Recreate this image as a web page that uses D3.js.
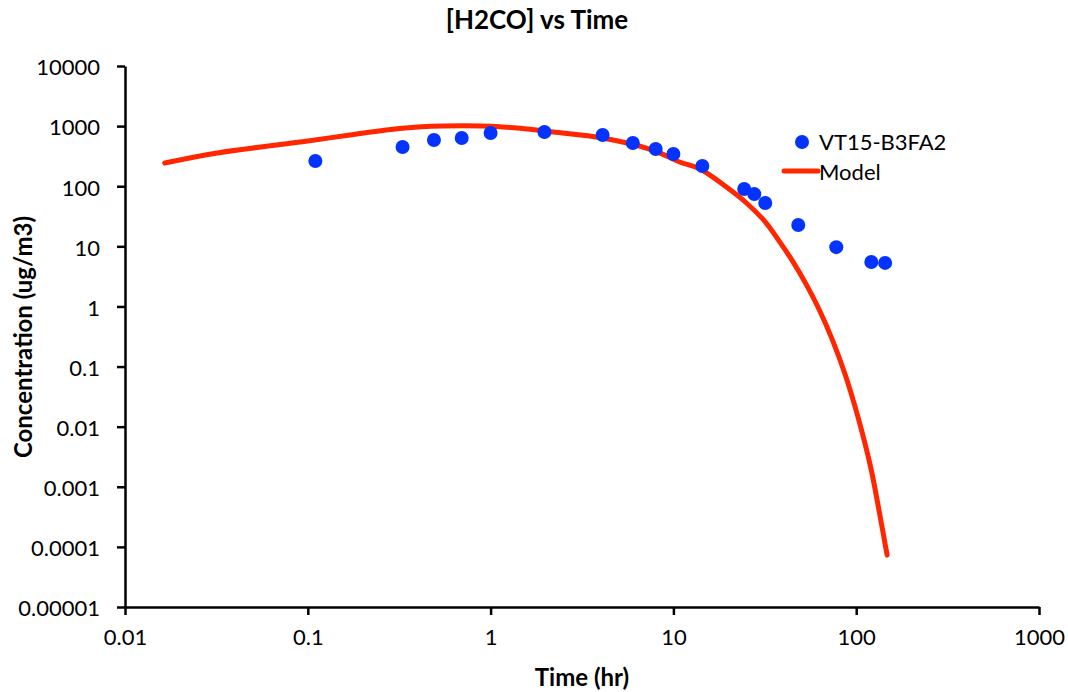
<!DOCTYPE html>
<html>
<head>
<meta charset="utf-8">
<script src="https://cdn.jsdelivr.net/npm/d3@7"></script>
<style>
  html, body { margin: 0; padding: 0; background: #fff; }
  svg { display: block; font-family: Lato, "Open Sans", sans-serif; }
</style>
</head>
<body>
<svg id="chart" width="1068" height="692"></svg>
<script>
// Measured data (VT15-B3FA2)
const dataTime = [0.11, 0.33, 0.49, 0.695, 1.0, 1.97, 4.1, 6.0, 8.0, 10.0, 14.4, 24.4, 27.7, 31.8, 48.2, 77.8, 121, 144];
const dataConc = [263, 449, 587, 634, 768, 797, 711, 523, 416, 343, 217, 90, 74, 52.6, 22.6, 9.7, 5.5, 5.3];

// Model curve
const modelTime = [0.0165, 0.032, 0.1, 0.17, 0.33, 0.55, 0.9, 1.45, 2.2, 4.1, 7.7, 10.8, 13.9, 19.5, 25.1, 32.2, 37.9, 44.7, 53.3, 62.8, 74.0, 87.1, 102.5, 120.8, 133.6, 147.6];
const modelConc = [243, 357, 565, 711, 920, 1000, 1000, 920, 798, 634, 400, 253, 195, 97, 52.6, 24.4, 12.2, 5.8, 2.33, 0.88, 0.28, 0.073, 0.0141, 0.00193, 0.00039, 0.000073];

const xTicks = [0.01, 0.1, 1, 10, 100, 1000];
const xTickLabels = ["0.01", "0.1", "1", "10", "100", "1000"];
const yTicks = [10000, 1000, 100, 10, 1, 0.1, 0.01, 0.001, 0.0001, 0.00001];
const yTickLabels = ["10000", "1000", "100", "10", "1", "0.1", "0.01", "0.001", "0.0001", "0.00001"];

const title = "[H2CO] vs Time";
const xTitle = "Time (hr)";
const yTitle = "Concentration (ug/m3)";
const seriesNames = ["VT15-B3FA2", "Model"];

const svg = d3.select("#chart");
const plotLeft = 125, plotRight = 1039, plotTop = 66, plotBottom = 607;

const x = d3.scaleLog().domain([0.01, 1000]).range([plotLeft, plotRight]);
const y = d3.scaleLog().domain([0.00001, 10000]).range([plotBottom, plotTop]);

const blue = "#0433ff";
const red = "#ff2600";

// Axes
const xAxis = svg.append("g").attr("transform", `translate(0,${plotBottom})`)
  .call(d3.axisBottom(x).tickValues(xTicks).tickFormat((d, i) => xTickLabels[i]).tickSize(8).tickSizeOuter(0).tickPadding(10));
const yAxis = svg.append("g").attr("transform", `translate(${plotLeft},0)`)
  .call(d3.axisLeft(y).tickValues(yTicks).tickFormat((d, i) => yTickLabels[i]).tickSize(8).tickSizeOuter(0).tickPadding(17));

[xAxis, yAxis].forEach(g => {
  g.select(".domain").attr("stroke", "#000").attr("stroke-width", 2.5);
  g.selectAll(".tick line").attr("stroke", "#000").attr("stroke-width", 2.5);
  g.selectAll(".tick text").attr("fill", "#000").style("font-size", "22px").style("font-family", "Lato, sans-serif");
});
xAxis.selectAll(".tick text").attr("dy", "0.9em");
yAxis.selectAll(".tick text").attr("dy", "0.4em");

// Model line
const line = d3.line()
  .x((d, i) => x(modelTime[i]))
  .y((d, i) => y(modelConc[i]))
  .curve(d3.curveCatmullRom.alpha(0.5));
svg.append("path")
  .datum(modelTime)
  .attr("d", line)
  .attr("fill", "none")
  .attr("stroke", red)
  .attr("stroke-width", 5)
  .attr("stroke-linecap", "round")
  .attr("stroke-linejoin", "round");

// Data points
svg.append("g").selectAll("circle")
  .data(dataTime)
  .join("circle")
  .attr("cx", (d) => x(d))
  .attr("cy", (d, i) => y(dataConc[i]))
  .attr("r", 7)
  .attr("fill", blue);

// Title
svg.append("text")
  .attr("x", 537).attr("y", 29)
  .attr("text-anchor", "middle")
  .style("font-size", "26px").style("font-weight", "bold")
  .text(title);

// Axis titles
svg.append("text")
  .attr("x", 582).attr("y", 686)
  .attr("text-anchor", "middle")
  .style("font-size", "24px").style("font-weight", "bold")
  .text(xTitle);

svg.append("text")
  .attr("transform", "translate(32,337) rotate(-90)")
  .attr("text-anchor", "middle")
  .style("font-size", "24px").style("font-weight", "bold")
  .text(yTitle);

// Legend
const lg = svg.append("g");
lg.append("circle").attr("cx", 802).attr("cy", 142).attr("r", 7).attr("fill", blue);
lg.append("text").attr("x", 819).attr("y", 150).style("font-size", "22px").text(seriesNames[0]);
lg.append("line").attr("x1", 784).attr("x2", 818).attr("y1", 171).attr("y2", 171)
  .attr("stroke", red).attr("stroke-width", 5).attr("stroke-linecap", "round");
lg.append("text").attr("x", 819).attr("y", 180).style("font-size", "22px").text(seriesNames[1]);
</script>
</body>
</html>
